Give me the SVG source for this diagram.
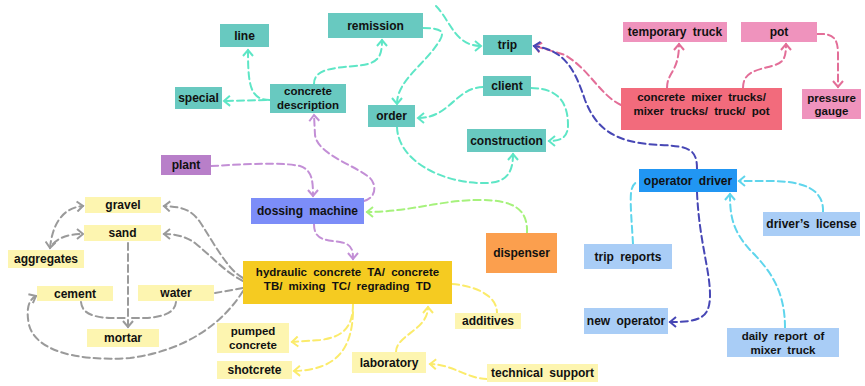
<svg xmlns="http://www.w3.org/2000/svg" width="865" height="386" viewBox="0 0 865 386">
  <style>
    .n text { font-family: "Liberation Sans", Arial, sans-serif; font-weight: bold; font-size: 12px; fill: #111; text-anchor: middle; word-spacing: 3px; }
    .n text.two { font-size: 11.5px; }
    .teal rect { fill: #68c9c0; }
    .pinkl rect { fill: #ef93bd; }
    .red rect { fill: #f26b7c; }
    .purple rect { fill: #b87fc9; }
    .blue rect { fill: #7c8df8; }
    .gold rect { fill: #f5cb21; }
    .pale rect { fill: #fdf5b0; }
    .orange rect { fill: #fb9f4e; }
    .op rect { fill: #2196f3; }
    .lblue rect { fill: #a9cdf6; }
    #edges path { fill: none; stroke-width: 2; stroke-dasharray: 7 4; stroke-linecap: round; }
    .e-teal { stroke: #5ee6c6; }
    .e-pink { stroke: #e36e98; }
    .e-purple { stroke: #c38fd6; }
    .e-green { stroke: #a6f27c; }
    .e-yellow { stroke: #fbeb6b; }
    .e-gray { stroke: #9a9a9a; }
    .e-navy { stroke: #4747b5; }
    .e-cyan { stroke: #5fd5ec; }
  </style>
  <defs>
    <marker id="a-teal" viewBox="-8 -6 10 12" refX="0" refY="0" markerWidth="10" markerHeight="12" markerUnits="userSpaceOnUse" orient="auto"><path d="M-6,-5 L0,0 L-6,5" fill="none" stroke="#5ee6c6" stroke-width="2"/></marker>
    <marker id="a-pink" viewBox="-8 -6 10 12" refX="0" refY="0" markerWidth="10" markerHeight="12" markerUnits="userSpaceOnUse" orient="auto"><path d="M-6,-5 L0,0 L-6,5" fill="none" stroke="#e36e98" stroke-width="2"/></marker>
    <marker id="a-purple" viewBox="-8 -6 10 12" refX="0" refY="0" markerWidth="10" markerHeight="12" markerUnits="userSpaceOnUse" orient="auto"><path d="M-6,-5 L0,0 L-6,5" fill="none" stroke="#c38fd6" stroke-width="2"/></marker>
    <marker id="a-green" viewBox="-8 -6 10 12" refX="0" refY="0" markerWidth="10" markerHeight="12" markerUnits="userSpaceOnUse" orient="auto"><path d="M-6,-5 L0,0 L-6,5" fill="none" stroke="#a6f27c" stroke-width="2"/></marker>
    <marker id="a-yellow" viewBox="-8 -6 10 12" refX="0" refY="0" markerWidth="10" markerHeight="12" markerUnits="userSpaceOnUse" orient="auto"><path d="M-6,-5 L0,0 L-6,5" fill="none" stroke="#fbeb6b" stroke-width="2"/></marker>
    <marker id="a-gray" viewBox="-8 -6 10 12" refX="0" refY="0" markerWidth="10" markerHeight="12" markerUnits="userSpaceOnUse" orient="auto"><path d="M-6,-5 L0,0 L-6,5" fill="none" stroke="#9a9a9a" stroke-width="2"/></marker>
    <marker id="a-gray-s" viewBox="-8 -6 10 12" refX="0" refY="0" markerWidth="10" markerHeight="12" markerUnits="userSpaceOnUse" orient="auto-start-reverse"><path d="M-6,-5 L0,0 L-6,5" fill="none" stroke="#9a9a9a" stroke-width="2"/></marker>
    <marker id="a-navy" viewBox="-8 -6 10 12" refX="0" refY="0" markerWidth="10" markerHeight="12" markerUnits="userSpaceOnUse" orient="auto"><path d="M-6,-5 L0,0 L-6,5" fill="none" stroke="#4747b5" stroke-width="2"/></marker>
    <marker id="a-cyan" viewBox="-8 -6 10 12" refX="0" refY="0" markerWidth="10" markerHeight="12" markerUnits="userSpaceOnUse" orient="auto"><path d="M-6,-5 L0,0 L-6,5" fill="none" stroke="#5fd5ec" stroke-width="2"/></marker>
  </defs>

  <g id="edges">
    <!-- teal -->
    <path class="e-teal" d="M270,100 C250,100 248,85 248,50" marker-end="url(#a-teal)"/>
    <path class="e-teal" d="M266,100 L224,101" marker-end="url(#a-teal)"/>
    <path class="e-teal" d="M314,84 C314,70 330,68 355,66 C378,64 382,58 382,40" marker-end="url(#a-teal)"/>
    <path class="e-teal" d="M423,28 C438,28 446,30 440,40 C425,65 397,80 397,104" marker-end="url(#a-teal)"/>
    <path class="e-teal" d="M436,6 C450,20 455,46 481,46" marker-end="url(#a-teal)"/>
    <path class="e-teal" d="M483,87 C455,88 450,118 418,118" marker-end="url(#a-teal)"/>
    <path class="e-teal" d="M531,88 C560,88 568,105 568,125 C568,138 560,141 549,141" marker-end="url(#a-teal)"/>
    <path class="e-teal" d="M397,127 C398,160 440,182 480,183 C505,184 513,175 513,154" marker-end="url(#a-teal)"/>
    <!-- purple -->
    <path class="e-purple" d="M211,166 C250,164 280,162 300,166 C312,170 313,180 313,196" marker-end="url(#a-purple)"/>
    <path class="e-purple" d="M364,201 C376,198 377,185 370,178 C355,165 318,155 315,135 L314,115" marker-end="url(#a-purple)"/>
    <path class="e-purple" d="M314,224 C314,240 325,240 340,242 C352,244 353,250 353,259" marker-end="url(#a-purple)"/>
    <!-- green -->
    <path class="e-green" d="M527,233 C528,210 515,200 480,200 C440,200 410,212 367,212" marker-end="url(#a-green)"/>
    <!-- pink -->
    <path class="e-pink" d="M667,88 C667,72 679,72 679,44" marker-end="url(#a-pink)"/>
    <path class="e-pink" d="M743,88 C743,70 760,70 775,65 C785,62 786,55 786,44" marker-end="url(#a-pink)"/>
    <path class="e-pink" d="M817,34 C835,33 838,40 838,55 L838,87" marker-end="url(#a-pink)"/>
    <path class="e-pink" d="M621,105 C600,95 590,70 565,55 L535,46" marker-end="url(#a-pink)"/>
    <!-- navy -->
    <path class="e-navy" d="M697,169 C697,150 690,146 660,145 C610,143 595,125 585,100 C575,70 565,50 534,46" marker-end="url(#a-navy)"/>
    <path class="e-navy" d="M697,192 C699,240 710,270 710,295 C710,318 700,322 670,322" marker-end="url(#a-navy)"/>
    <!-- cyan -->
    <path class="e-cyan" d="M633,244 C632,225 630,205 631,193 C632,185 635,182 639,182"/>
    <path class="e-cyan" d="M823,212 C824,190 805,181 770,181 L739,181" marker-end="url(#a-cyan)"/>
    <path class="e-cyan" d="M785,328 C785,290 770,270 750,250 C732,230 730,215 730,194" marker-end="url(#a-cyan)"/>
    <!-- gray -->
    <path class="e-gray" d="M243,278 C228,270 215,245 200,222 C190,208 180,207 164,206" marker-end="url(#a-gray)"/>
    <path class="e-gray" d="M243,281 C225,272 210,255 195,243 C185,236 175,234 164,234" marker-end="url(#a-gray)"/>
    <path class="e-gray" d="M243,288 L215,293"/>
    <path class="e-gray" d="M243,291 C225,320 190,350 130,358 C70,362 35,348 29,325 C26,310 28,300 36,296" marker-end="url(#a-gray)"/>
    <path class="e-gray" d="M50,248 C52,228 60,208 83,206" marker-start="url(#a-gray-s)" marker-end="url(#a-gray)"/>
    <path class="e-gray" d="M53,244 C58,238 68,234 83,234" marker-end="url(#a-gray)"/>
    <path class="e-gray" d="M128,243 L128,327" marker-end="url(#a-gray)"/>
    <path class="e-gray" d="M81,302 C82,312 90,317 110,318 L128,318"/>
    <path class="e-gray" d="M176,302 C175,312 165,317 145,318 L128,318"/>
    <!-- yellow -->
    <path class="e-yellow" d="M353,304 C353,325 345,337 320,340 L292,342" marker-end="url(#a-yellow)"/>
    <path class="e-yellow" d="M353,312 C352,345 340,370 294,371" marker-end="url(#a-yellow)"/>
    <path class="e-yellow" d="M452,284 C475,286 497,295 497,313"/>
    <path class="e-yellow" d="M396,352 C396,335 428,330 428,307" marker-end="url(#a-yellow)"/>
    <path class="e-yellow" d="M487,379 C465,378 455,365 430,364" marker-end="url(#a-yellow)"/>
  </g>

  <g id="line" class="n teal"><rect x="220" y="24" width="49" height="23"/><text x="244.5" y="40">line</text></g>
  <g id="remission" class="n teal"><rect x="328" y="13" width="95" height="25"/><text x="375.5" y="30">remission</text></g>
  <g id="special" class="n teal"><rect x="175" y="87" width="47" height="22"/><text x="198.5" y="102">special</text></g>
  <g id="concrete-description" class="n teal"><rect x="270" y="84" width="76" height="29"/><text class="two" x="308" y="95">concrete</text><text class="two" x="308" y="108.5">description</text></g>
  <g id="order" class="n teal"><rect x="368" y="105" width="47" height="22"/><text x="391.5" y="120">order</text></g>
  <g id="trip" class="n teal"><rect x="483" y="35" width="49" height="20"/><text x="507.5" y="49">trip</text></g>
  <g id="client" class="n teal"><rect x="483" y="76" width="48" height="20"/><text x="507" y="90">client</text></g>
  <g id="construction" class="n teal"><rect x="467" y="129" width="79" height="23"/><text x="506.5" y="144.5">construction</text></g>

  <g id="temporary-truck" class="n pinkl"><rect x="623" y="22" width="104" height="20"/><text x="675" y="36">temporary truck</text></g>
  <g id="pot" class="n pinkl"><rect x="741" y="22" width="76" height="20"/><text x="779" y="36">pot</text></g>
  <g id="mixer-trucks" class="n red"><rect x="621" y="88" width="161" height="42"/><text class="two" x="701.5" y="101">concrete mixer trucks/</text><text class="two" x="701.5" y="114.5">mixer trucks/ truck/ pot</text></g>
  <g id="pressure-gauge" class="n pinkl"><rect x="802" y="89" width="59" height="30"/><text class="two" x="831.5" y="101.5">pressure</text><text class="two" x="831.5" y="115">gauge</text></g>

  <g id="plant" class="n purple"><rect x="161" y="155" width="50" height="20"/><text x="186" y="169">plant</text></g>
  <g id="dossing-machine" class="n blue"><rect x="251" y="198" width="113" height="26"/><text x="307.5" y="215">dossing machine</text></g>
  <g id="dispenser" class="n orange"><rect x="486" y="233" width="71" height="40"/><text x="521.5" y="257">dispenser</text></g>

  <g id="hydraulic" class="n gold"><rect x="243" y="261" width="209" height="43"/><text class="two" x="347.5" y="276">hydraulic concrete TA/ concrete</text><text class="two" x="347.5" y="289.5">TB/ mixing TC/ regrading TD</text></g>
  <g id="gravel" class="n pale"><rect x="85" y="197" width="76" height="16"/><text x="123" y="209">gravel</text></g>
  <g id="sand" class="n pale"><rect x="84" y="225" width="77" height="16"/><text x="122.5" y="237">sand</text></g>
  <g id="aggregates" class="n pale"><rect x="8" y="250" width="76" height="18"/><text x="46" y="263">aggregates</text></g>
  <g id="cement" class="n pale"><rect x="37" y="286" width="76" height="15"/><text x="75" y="297.5">cement</text></g>
  <g id="water" class="n pale"><rect x="138" y="285" width="76" height="16"/><text x="176" y="297">water</text></g>
  <g id="mortar" class="n pale"><rect x="87" y="329" width="72" height="18"/><text x="123" y="342">mortar</text></g>
  <g id="pumped-concrete" class="n pale"><rect x="217" y="323" width="72" height="30"/><text class="two" x="253" y="335">pumped</text><text class="two" x="253" y="348.5">concrete</text></g>
  <g id="shotcrete" class="n pale"><rect x="217" y="361" width="75" height="18"/><text x="254.5" y="374">shotcrete</text></g>
  <g id="additives" class="n pale"><rect x="455" y="313" width="66" height="16"/><text x="488" y="325">additives</text></g>
  <g id="laboratory" class="n pale"><rect x="352" y="352" width="74" height="21"/><text x="389" y="366.5">laboratory</text></g>
  <g id="technical-support" class="n pale"><rect x="487" y="364" width="111" height="18"/><text x="542.5" y="377">technical support</text></g>

  <g id="operator-driver" class="n op"><rect x="639" y="169" width="98" height="23"/><text x="688" y="184.5">operator driver</text></g>
  <g id="drivers-license" class="n lblue"><rect x="763" y="212" width="97" height="24"/><text x="811.5" y="228">driver’s license</text></g>
  <g id="trip-reports" class="n lblue"><rect x="584" y="244" width="88" height="25"/><text x="628" y="260.5">trip reports</text></g>
  <g id="new-operator" class="n lblue"><rect x="584" y="308" width="84" height="26"/><text x="626" y="325">new operator</text></g>
  <g id="daily-report" class="n lblue"><rect x="727" y="328" width="112" height="29"/><text class="two" x="783" y="340">daily report of</text><text class="two" x="783" y="353.5">mixer truck</text></g>
</svg>
